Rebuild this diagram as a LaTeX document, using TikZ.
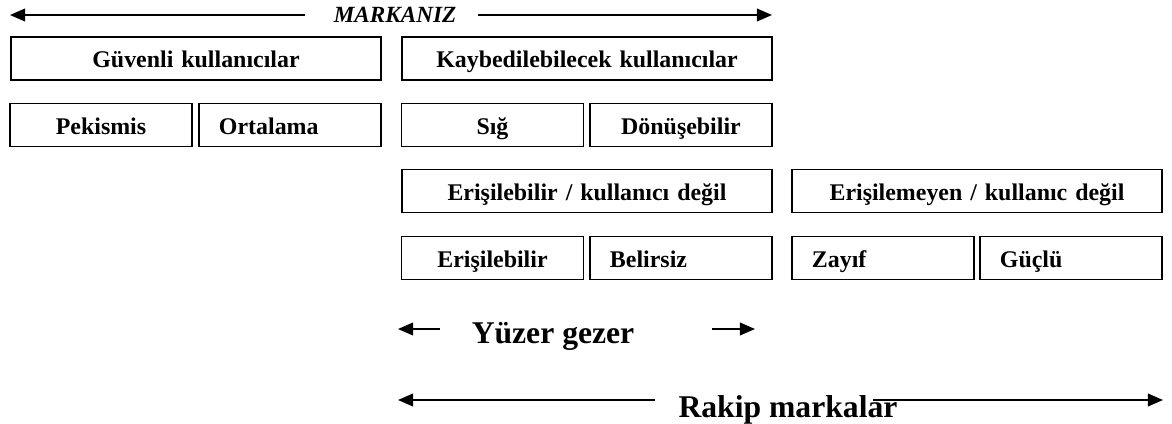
\documentclass[tikz,border=0pt]{standalone}
\usepackage{fontspec}
\setmainfont{Liberation Serif}
\usetikzlibrary{arrows.meta}
\tikzset{
    kutu/.style={draw, line width=1.3pt, minimum height=1.075cm, inner ysep=0pt,
        inner xsep=0pt, text height=13.5pt, text depth=0pt,
        font=\fontsize{17}{17}\selectfont\bfseries},
    genis/.style={kutu, text width=9.25cm, align=center},
    dar/.style={kutu, text width=4.55cm, align=center},
    darsol/.style={kutu, inner xsep=0.5cm, text width=3.55cm, align=left},
    pil/.style={line width=1.2pt, -{Triangle[length=0.38cm, width=0.32cm]}},
    buyuk/.style={font=\fontsize{22.5}{22.5}\selectfont\bfseries}
}
\begin{document}
\begin{tikzpicture}[x=0.025cm, y=-0.025cm]
    \useasboundingbox (0, 0) rectangle (1172, 423);
    % ust ok
    \node[anchor=base, font=\fontsize{16.5}{16.5}\selectfont\bfseries\itshape] (markaniz) at (395, 22) {MARKANIZ};
    \coordinate (mk1) at (305, 15);
    \coordinate (mk2) at (10, 15);
    \coordinate (mk3) at (478, 15);
    \coordinate (mk4) at (772, 15);
    \draw[pil] (mk1) -- (mk2);
    \draw[pil] (mk3) -- (mk4);
    % kutular
    \node[genis] (guvenli) at (196, 58.5) {G\"uvenli kullan\i c\i lar};
    \node[genis] (kaybed) at (587, 58.5) {Kaybedilebilecek kullan\i c\i lar};
    \node[dar] (pekismis) at (101, 125) {Pekismis};
    \node[darsol] (ortalama) at (290, 125) {Ortalama};
    \node[dar] (sig) at (492.5, 125) {S\i\u{g}};
    \node[dar] (donus) at (681, 125) {D\"on\"u\c{s}ebilir};
    \node[genis] (erisKul) at (587, 191) {Eri\c{s}ilebilir / kullan\i c\i\ de\u{g}il};
    \node[genis] (erisMeyen) at (977, 191) {Eri\c{s}ilemeyen / kullan\i c de\u{g}il};
    \node[dar] (eris) at (492.5, 258) {Eri\c{s}ilebilir};
    \node[darsol] (belirsiz) at (681, 258) {Belirsiz};
    \node[darsol] (zayif) at (883, 258) {Zay\i f};
    \node[darsol] (guclu) at (1071, 258) {G\"u\c{c}l\"u};
    % alt oklar
    \node[buyuk, anchor=base] (yuzer) at (553, 343) {Y\"uzer gezer};
    \coordinate (yz1) at (440, 329);
    \coordinate (yz2) at (398, 329);
    \coordinate (yz3) at (712, 329);
    \coordinate (yz4) at (755, 329);
    \draw[pil] (yz1) -- (yz2);
    \draw[pil] (yz3) -- (yz4);
    \node[buyuk, anchor=base] (rakip) at (788, 417) {Rakip markalar};
    \coordinate (rk1) at (655, 400);
    \coordinate (rk2) at (398, 400);
    \coordinate (rk3) at (873, 400);
    \coordinate (rk4) at (1163, 400);
    \draw[pil] (rk1) -- (rk2);
    \draw[pil] (rk3) -- (rk4);
\end{tikzpicture}
\end{document}
